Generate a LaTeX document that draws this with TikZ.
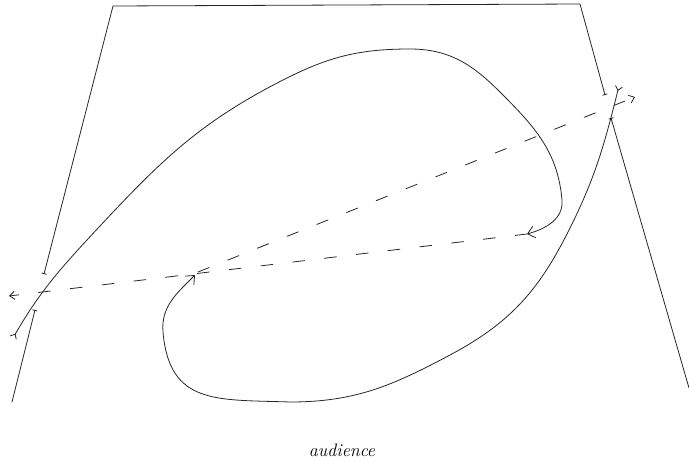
\documentclass[tikz,border=0pt]{standalone}
\usetikzlibrary{arrows.meta}
\begin{document}
\begin{tikzpicture}[x=1pt,y=-1pt,
  pen/.style={line width=0.8pt, black!85, line cap=round, line join=round},
  dashroute/.style={pen, dash pattern=on 12pt off 20pt}]
\useasboundingbox (0,0) rectangle (689,461);
% stage outline
\coordinate (TL) at (113,6);
\coordinate (TR) at (580,4);
\coordinate (LU) at (44,274);
\coordinate (LL) at (35,310);
\coordinate (LB) at (12,402);
\coordinate (RU) at (605,95);
\coordinate (RL) at (611,118);
\coordinate (RB) at (689,388);
\draw[pen,{Bar[width=5pt]}-{Bar[width=5pt]}] (RU) -- (TR) -- (TL) -- (LU);
\draw[pen,{Bar[width=5pt]}-] (LL) -- (LB);
\draw[pen,{Bar[width=5pt]}-] (RL) -- (RB);
% route A
\coordinate (A0) at (13,338);
\coordinate (A1) at (527,234);
\draw[pen,{Straight Barb[reversed,length=4pt,width=7pt]}-{Straight Barb[length=7pt,width=12pt]}]
  (A0) to[out=60,in=-133] (100,226) to[out=47,in=-153] (283,80)
  to[out=27,in=180] (410,49) to[out=0,in=135] (500,92)
  to[out=-45,in=95] (562,200) to[out=-85,in=15] (A1);
% route B
\coordinate (B0) at (619,86);
\coordinate (B1) at (195,275);
\draw[pen,{Straight Barb[reversed,length=4pt,width=7pt]}-{Straight Barb[length=7pt,width=12pt]}]
  (B0) to[out=-104,in=63] (567,234) to[out=-117,in=28] (450,355)
  to[out=-152,in=0] (290,402) to[out=178,in=-85,looseness=1.3] (163,332)
  to[out=95,in=-135] (B1);
% dashed cross moves
\coordinate (D1) at (9,296);
\coordinate (C0) at (198,272);
\coordinate (C1) at (635,97);
\draw[dashroute,-{Straight Barb[length=5pt,width=8pt]}] (A1) -- (D1);
\draw[dashroute,-{Straight Barb[length=5pt,width=8pt]}] (C0) -- (C1);
% audience
\node[font=\itshape\fontsize{18}{20}\selectfont] (aud) at (342,450) {audience};
\end{tikzpicture}
\end{document}
